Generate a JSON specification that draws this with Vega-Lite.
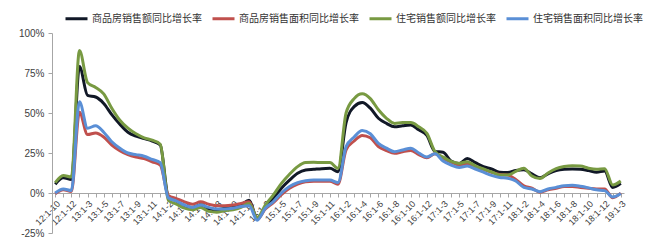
{
  "$schema": "https://vega.github.io/schema/vega-lite/v6.json",
  "width": 572,
  "height": 200,
  "autosize": {"type": "none"},
  "padding": {"left": 52, "top": 33, "right": 26, "bottom": 7},
  "background": "white",
  "config": {"view": {"stroke": null}, "font": "Liberation Sans"},
  "data": {"values": [
    {"period": "12:1-10", "sales_value": 5.5, "sales_area": -0.5, "res_value": 6.5, "res_area": 0},
    {"period": "12:1-11", "sales_value": 9.5, "sales_area": 2, "res_value": 11, "res_area": 2.5},
    {"period": "12:1-12", "sales_value": 8.5, "sales_area": 1, "res_value": 10, "res_area": 1.5},
    {"period": "13:1-2", "sales_value": 79, "sales_area": 50.5, "res_value": 89, "res_area": 57},
    {"period": "13:1-3", "sales_value": 61, "sales_area": 36.5, "res_value": 69, "res_area": 40.5},
    {"period": "13:1-4", "sales_value": 60, "sales_area": 37.5, "res_value": 66, "res_area": 42},
    {"period": "13:1-5", "sales_value": 56, "sales_area": 35, "res_value": 62, "res_area": 38},
    {"period": "13:1-6", "sales_value": 49, "sales_area": 30, "res_value": 53, "res_area": 32},
    {"period": "13:1-7", "sales_value": 43, "sales_area": 26.5, "res_value": 45.5, "res_area": 28},
    {"period": "13:1-8", "sales_value": 38, "sales_area": 24, "res_value": 40.5, "res_area": 25},
    {"period": "13:1-9", "sales_value": 35.5, "sales_area": 22.5, "res_value": 37, "res_area": 24},
    {"period": "13:1-10", "sales_value": 34, "sales_area": 21.5, "res_value": 34.5, "res_area": 23},
    {"period": "13:1-11", "sales_value": 32.5, "sales_area": 19.5, "res_value": 33, "res_area": 21},
    {"period": "13:1-12", "sales_value": 30, "sales_area": 17.5, "res_value": 30.5, "res_area": 19},
    {"period": "14:1-2", "sales_value": -2.5, "sales_area": -1.5, "res_value": -4.5, "res_area": -3},
    {"period": "14:1-3", "sales_value": -5, "sales_area": -3.5, "res_value": -7, "res_area": -5},
    {"period": "14:1-4", "sales_value": -8, "sales_area": -5.5, "res_value": -9.5, "res_area": -7.5},
    {"period": "14:1-5", "sales_value": -9, "sales_area": -7, "res_value": -10.5, "res_area": -9},
    {"period": "14:1-6", "sales_value": -7.5, "sales_area": -5.5, "res_value": -9, "res_area": -7.5},
    {"period": "14:1-7", "sales_value": -10, "sales_area": -7, "res_value": -11.5, "res_area": -9},
    {"period": "14:1-8", "sales_value": -10.5, "sales_area": -8, "res_value": -12, "res_area": -10},
    {"period": "14:1-9", "sales_value": -9.5, "sales_area": -8, "res_value": -11, "res_area": -10},
    {"period": "14:1-10", "sales_value": -9, "sales_area": -7.5, "res_value": -10.5, "res_area": -9.5},
    {"period": "14:1-11", "sales_value": -7.5, "sales_area": -6.5, "res_value": -9, "res_area": -8.5},
    {"period": "14:1-12", "sales_value": -4.5, "sales_area": -5.5, "res_value": -6.5, "res_area": -8},
    {"period": "15:1-2", "sales_value": -16, "sales_area": -16.5, "res_value": -15.5, "res_area": -17},
    {"period": "15:1-3", "sales_value": -9, "sales_area": -10, "res_value": -7.5, "res_area": -9.5},
    {"period": "15:1-4", "sales_value": -3.3, "sales_area": -6, "res_value": -1.2, "res_area": -5.4},
    {"period": "15:1-5", "sales_value": 3, "sales_area": -1, "res_value": 6, "res_area": 0},
    {"period": "15:1-6", "sales_value": 8, "sales_area": 3, "res_value": 11.7, "res_area": 4},
    {"period": "15:1-7", "sales_value": 12.3, "sales_area": 5.5, "res_value": 16.5, "res_area": 6.5},
    {"period": "15:1-8", "sales_value": 14.4, "sales_area": 7, "res_value": 19, "res_area": 7.7},
    {"period": "15:1-9", "sales_value": 14.8, "sales_area": 7.3, "res_value": 19.2, "res_area": 8.1},
    {"period": "15:1-10", "sales_value": 15.2, "sales_area": 7.3, "res_value": 19, "res_area": 8.1},
    {"period": "15:1-11", "sales_value": 15.4, "sales_area": 7.3, "res_value": 19, "res_area": 8.1},
    {"period": "15:1-12", "sales_value": 13.3, "sales_area": 5.5, "res_value": 15.4, "res_area": 6.5},
    {"period": "16:1-2", "sales_value": 44, "sales_area": 27, "res_value": 50, "res_area": 29},
    {"period": "16:1-3", "sales_value": 54, "sales_area": 32.5, "res_value": 59, "res_area": 35},
    {"period": "16:1-4", "sales_value": 56.5, "sales_area": 36, "res_value": 62, "res_area": 39},
    {"period": "16:1-5", "sales_value": 53, "sales_area": 34.5, "res_value": 59, "res_area": 37},
    {"period": "16:1-6", "sales_value": 46.7, "sales_area": 29, "res_value": 52, "res_area": 31},
    {"period": "16:1-7", "sales_value": 43.5, "sales_area": 26.5, "res_value": 46.7, "res_area": 28},
    {"period": "16:1-8", "sales_value": 41.4, "sales_area": 24.8, "res_value": 43.5, "res_area": 25.8},
    {"period": "16:1-9", "sales_value": 42, "sales_area": 25.8, "res_value": 44, "res_area": 26.9},
    {"period": "16:1-10", "sales_value": 42.5, "sales_area": 26.5, "res_value": 44, "res_area": 28},
    {"period": "16:1-11", "sales_value": 39.5, "sales_area": 24, "res_value": 41.4, "res_area": 25},
    {"period": "16:1-12", "sales_value": 36, "sales_area": 22, "res_value": 37.3, "res_area": 22.5},
    {"period": "17:1-2", "sales_value": 26, "sales_area": 24.5, "res_value": 26, "res_area": 24.5},
    {"period": "17:1-3", "sales_value": 25.5, "sales_area": 21.5, "res_value": 22.5, "res_area": 20},
    {"period": "17:1-4", "sales_value": 20, "sales_area": 19.3, "res_value": 19.7, "res_area": 17.5},
    {"period": "17:1-5", "sales_value": 18.5, "sales_area": 17.5, "res_value": 18.5, "res_area": 16},
    {"period": "17:1-6", "sales_value": 21.5, "sales_area": 18.5, "res_value": 19.6, "res_area": 16.9},
    {"period": "17:1-7", "sales_value": 19, "sales_area": 16.5, "res_value": 17, "res_area": 15},
    {"period": "17:1-8", "sales_value": 16.5, "sales_area": 14.8, "res_value": 15, "res_area": 13},
    {"period": "17:1-9", "sales_value": 15, "sales_area": 13, "res_value": 13.2, "res_area": 11},
    {"period": "17:1-10", "sales_value": 13, "sales_area": 11.5, "res_value": 11.3, "res_area": 9.7},
    {"period": "17:1-11", "sales_value": 12.8, "sales_area": 11.2, "res_value": 11.2, "res_area": 9.2},
    {"period": "17:1-12", "sales_value": 14, "sales_area": 8.5, "res_value": 13.5, "res_area": 7.5},
    {"period": "18:1-2", "sales_value": 14.5, "sales_area": 4.5, "res_value": 15.5, "res_area": 3.5},
    {"period": "18:1-3", "sales_value": 12, "sales_area": 3, "res_value": 10.6, "res_area": 2.5},
    {"period": "18:1-4", "sales_value": 9.5, "sales_area": 0.5, "res_value": 9, "res_area": 0.8},
    {"period": "18:1-5", "sales_value": 12, "sales_area": 2, "res_value": 12.5, "res_area": 2.5},
    {"period": "18:1-6", "sales_value": 14, "sales_area": 3, "res_value": 15.2, "res_area": 3.5},
    {"period": "18:1-7", "sales_value": 14.8, "sales_area": 4, "res_value": 16.5, "res_area": 4.5},
    {"period": "18:1-8", "sales_value": 15, "sales_area": 4, "res_value": 17, "res_area": 4.8},
    {"period": "18:1-9", "sales_value": 14.8, "sales_area": 3.5, "res_value": 16.9, "res_area": 4.2},
    {"period": "18:1-10", "sales_value": 14, "sales_area": 3, "res_value": 15.5, "res_area": 3.2},
    {"period": "18:1-11", "sales_value": 13, "sales_area": 2.5, "res_value": 14.8, "res_area": 2},
    {"period": "18:1-12", "sales_value": 13.8, "sales_area": 2.5, "res_value": 15.2, "res_area": 1.5},
    {"period": "19:1-2", "sales_value": 3.5, "sales_area": -3, "res_value": 5, "res_area": -2.5},
    {"period": "19:1-3", "sales_value": 6, "sales_area": 0, "res_value": 7.5, "res_area": -0.3}
  ]},
  "transform": [{"fold": ["sales_value", "sales_area", "res_value", "res_area"], "as": ["series", "value"]}],
  "mark": {"type": "line", "interpolate": "monotone", "strokeWidth": 3},
  "encoding": {
    "x": {
      "field": "period", "type": "ordinal", "sort": null,
      "scale": {"type": "point", "padding": 0.4},
      "axis": {
        "title": null, "offset": -40, "grid": false,
        "labelAngle": -45, "labelFontSize": 9, "labelColor": "#404040",
        "labelPadding": 2, "labelOverlap": false, "labelBound": false,
        "labelExpr": "round(datum.index*70)%2==0 ? datum.label : ''",
        "domainColor": "#a6a6a6", "tickColor": "#a6a6a6", "tickSize": 4
      }
    },
    "y": {
      "field": "value", "type": "quantitative",
      "scale": {"domain": [-25, 100], "nice": false, "zero": false},
      "axis": {
        "title": null, "grid": false, "values": [-25, 0, 25, 50, 75, 100],
        "labelExpr": "datum.value + '%'", "labelFontSize": 10, "labelColor": "#404040",
        "labelPadding": 4, "domainColor": "#a6a6a6", "tickColor": "#a6a6a6", "tickSize": 4
      }
    },
    "color": {
      "field": "series", "type": "nominal",
      "scale": {"domain": ["sales_value", "sales_area", "res_value", "res_area"], "range": ["#111827", "#c0504d", "#789a42", "#5a8fd6"]},
      "legend": {
        "title": null, "orient": "none", "legendX": 12, "legendY": -27, "direction": "horizontal",
        "symbolType": "stroke", "symbolSize": 484, "symbolStrokeWidth": 3,
        "labelFont": "Noto Sans CJK SC", "labelFontSize": 10, "labelColor": "#333333",
        "labelOffset": 3, "columnPadding": 4, "labelLimit": 200,
        "labelExpr": "datum.label=='sales_value' ? '商品房销售额同比增长率' : datum.label=='sales_area' ? '商品房销售面积同比增长率' : datum.label=='res_value' ? '住宅销售额同比增长率' : '住宅销售面积同比增长率'"
      }
    }
  }
}
